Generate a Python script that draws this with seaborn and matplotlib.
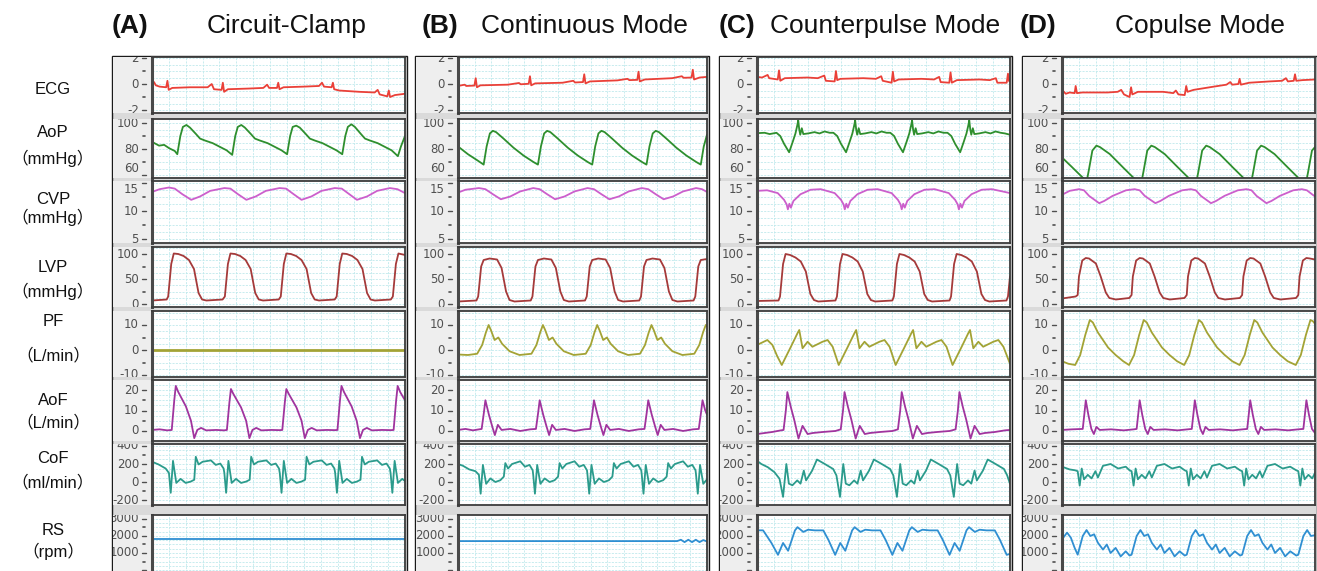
import numpy as np
import seaborn as sns
import matplotlib
matplotlib.use("Agg")
import matplotlib.pyplot as plt
from matplotlib.patches import Rectangle

# ---------------- data: (time % of sweep, value) ----------------
ECG_A = [(0,0.0),(0.8,0.15),(1.5,-0.1),(3,-0.2),(5.6,-0.25),(6.1,0.25),(6.6,-0.45),(8,-0.3),(15,-0.25),(22,-0.25),(23.6,0.0),(24.5,-0.4),(27.5,-0.45),(28,0.1),(28.5,-0.6),(30,-0.4),(38,-0.35),(44,-0.3),(45.5,-0.05),(46.3,-0.3),(49.4,-0.3),(49.9,0.1),(50.4,-0.4),(52,-0.25),(60,-0.2),(66,-0.15),(67.2,0.1),(68,-0.2),(71,-0.25),(71.5,0.1),(72,-0.4),(74,-0.5),(82,-0.6),(88,-0.65),(89.2,-0.45),(90,-0.8),(93,-0.95),(93.6,-0.5),(94.1,-1.0),(96,-0.85),(100,-0.75)]
ECG_B = [(0,-0.15),(2.7,-0.05),(3.3,-0.15),(6.6,-0.12),(7.1,0.45),(7.6,-0.25),(9,-0.1),(20,-0.05),(24.5,0.08),(25.2,-0.02),(28.4,0.02),(28.9,0.6),(29.4,-0.1),(31,0.05),(42,0.1),(46.3,0.25),(47,0.12),(50.2,0.15),(50.7,0.75),(51.2,0.05),(53,0.2),(64,0.28),(68.1,0.4),(68.8,0.3),(72,0.32),(72.5,0.95),(73,0.2),(75,0.35),(86,0.45),(89.9,0.6),(90.6,0.48),(93.8,0.5),(94.3,1.1),(94.8,0.35),(97,0.5),(100,0.55)]
ECG_C = [(0,0.55),(2,0.5),(4.2,0.7),(4.8,0.45),(8.2,0.35),(8.7,1.05),(9.2,0.25),(11,0.45),(20,0.5),(24,0.45),(26.6,0.65),(27.2,0.25),(30.7,0.2),(31.2,1.0),(31.7,0.3),(33,0.4),(42,0.45),(47,0.4),(49.1,0.6),(49.7,0.25),(53.2,0.1),(53.7,0.95),(54.2,0.2),(56,0.35),(65,0.4),(70,0.35),(72,0.55),(72.6,0.15),(76,0.1),(76.5,0.9),(77,0.1),(79,0.3),(88,0.35),(92,0.3),(94.4,0.45),(95,0.1),(98.7,0.1),(99.2,0.8),(99.7,0.2),(100,0.3)]
ECG_D = [(0,-0.45),(1.5,-0.75),(3,-0.65),(5,-0.7),(5.4,-0.15),(5.9,-0.7),(8,-0.65),(18,-0.65),(22,-0.6),(23.4,-0.45),(24.5,-0.8),(26.7,-1.0),(27.3,-0.25),(27.8,-0.8),(30,-0.6),(40,-0.6),(44,-0.7),(45,-0.5),(46,-0.8),(48.5,-0.85),(49.1,-0.15),(49.6,-0.6),(52,-0.45),(60,-0.2),(65,-0.05),(66.5,0.15),(67.3,-0.05),(69.7,0.0),(70.2,0.4),(70.7,-0.05),(74,0.1),(82,0.2),(87,0.25),(88.5,0.45),(89.3,0.2),(91.6,0.25),(92.1,0.75),(92.6,0.25),(95,0.3),(100,0.35)]

AoP_A = [(0,85.5),(2.8,82.6),(4.8,83.2),(6.8,80.6),(9.0,78.5),(10.0,76),(11.2,90),(12.2,97),(13.6,98.5),(15,96.5),(17.4,91.5),(19,88),(21,86.5),(24,84.5),(27,81.5),(29.5,79),(31.7,75.5),(32.9,90),(33.9,97),(35.3,98.5),(36.7,96.5),(39.1,91.5),(40.7,88),(42.7,86.5),(45.7,84.5),(48.7,81.5),(51.2,79),(53.4,76),(54.6,90),(55.6,97),(57,98),(58.4,96.5),(60.8,91.5),(62.4,88),(64.4,86.5),(67.4,84.5),(70.4,81.5),(72.9,79),(75.2,76),(76.4,90),(77.4,97),(78.8,99),(80.2,97),(82.6,91.5),(84.2,88),(86.2,86.5),(89.2,84.5),(92.2,81.5),(94.7,79),(97.2,74.5),(98.4,82),(100,90)]
AoP_B = [(0,82),(4,76),(8,71),(10.3,68),(11.5,82),(12.8,92),(14,94),(15.3,93),(18.3,88),(22.3,81),(26.3,75),(30.3,70),(32.1,68),(33.3,82),(34.6,92),(35.8,94),(37.1,93),(40.1,88),(44.1,81),(48.1,75),(52.1,70),(53.9,68),(55.1,82),(56.4,92),(57.6,94),(58.9,93),(61.9,88),(65.9,81),(69.9,75),(73.9,70),(75.7,68),(76.9,82),(78.2,92),(79.4,94),(80.7,93),(83.7,88),(87.7,81),(91.7,75),(95.7,70),(97.5,68),(98.7,82),(100,91)]
AoP_C = [(0,92.2),(3,92.5),(5,91.5),(7.7,92.5),(9.2,90),(10.7,84),(12.7,77.5),(14.2,86),(15.2,92),(15.9,98),(16.3,102),(16.7,95),(17.1,91),(17.7,96),(18.3,91.5),(20.2,92),(22.7,93),(24.7,92),(26.7,93.5),(28.7,92.5),(30.2,92.5),(31.7,90),(33.2,84),(35.2,77.5),(36.7,86),(37.7,92),(38.4,98),(38.8,102),(39.2,95),(39.6,91),(40.2,96),(40.8,91.5),(42.7,92),(45.2,93),(47.2,92),(49.2,93.5),(51.2,92.5),(52.7,92.5),(54.2,90),(55.7,84),(57.7,77.5),(59.2,86),(60.2,92),(60.9,98),(61.3,102),(61.7,95),(62.1,91),(62.7,96),(63.3,91.5),(65.2,92),(67.7,93),(69.7,92),(71.7,93.5),(73.7,92.5),(75.3,92.5),(76.8,90),(78.3,84),(80.3,77.5),(81.8,86),(82.8,92),(83.5,98),(83.9,102),(84.3,95),(84.7,91),(85.3,96),(85.9,91.5),(87.8,92),(90.3,93),(92.3,92),(94.3,93.5),(96.3,92.5),(98,92),(100,91)]
AoP_D = [(0,73.5),(4,66),(8.7,57),(9.8,55.5),(10.5,62.6),(12,78.8),(13.6,82.6),(15,81.5),(18.9,76.1),(24.2,65.7),(28.2,58),(29.3,55.5),(31.5,55.5),(32.2,62.6),(33.7,78.8),(35.3,82.6),(36.7,81.5),(40.6,76.1),(45.9,65.7),(49.9,58),(51,55.5),(53.2,55.5),(53.9,62.6),(55.4,78.8),(57,82.6),(58.4,81.5),(62.3,76.1),(67.6,65.7),(71.6,58),(72.7,55.5),(74.9,55.5),(75.6,62.6),(77.1,78.8),(78.7,82.6),(80.1,81.5),(84,76.1),(89.3,65.7),(93.3,58),(94.4,55.5),(96.6,55.5),(97.3,62.6),(98.8,78.8),(100,81.5)]

CVP_A = [(0,13.4),(3,13.9),(6.7,14.2),(9,14.0),(12,13.0),(15.5,12.0),(19,12.6),(23,13.6),(28.6,14.1),(31,14.0),(34,13.0),(37.3,12.0),(41,12.6),(45,13.6),(50.4,14.1),(53,14.0),(56,13.0),(59.1,12.0),(63,12.6),(67,13.6),(72.2,14.1),(75,14.0),(78,13.0),(81,12.0),(85,12.6),(89,13.6),(94,14.1),(97,13.9),(100,13.2)]
CVP_B = [(0,13.3),(3,13.8),(8.4,14.1),(11,13.9),(14,13),(17.2,12.1),(21,12.6),(25,13.5),(30.2,14.1),(32.8,13.9),(35.8,13),(39,12.1),(42.8,12.6),(46.8,13.5),(52,14.1),(54.6,13.9),(57.6,13),(60.8,12.1),(64.6,12.6),(68.6,13.5),(73.8,14.1),(76.4,13.9),(79.4,13),(82.6,12.1),(86.4,12.6),(90.4,13.5),(95.6,14.1),(98,13.9),(100,13.4)]
CVP_C = [(0,13.6),(4,13.7),(8.2,13.2),(10.7,12),(11.7,11.2),(12.2,10.3),(12.8,11.3),(13.4,10.6),(14.4,11.8),(17.2,13),(21.2,13.8),(25.2,13.9),(30.7,13.2),(33.2,12),(34.2,11.2),(34.7,10.3),(35.3,11.3),(35.9,10.6),(36.9,11.8),(39.7,13),(43.7,13.8),(47.7,13.9),(53.2,13.2),(55.7,12),(56.7,11.2),(57.2,10.3),(57.8,11.3),(58.4,10.6),(59.4,11.8),(62.2,13),(66.2,13.8),(70.2,13.9),(75.8,13.2),(78.3,12),(79.3,11.2),(79.8,10.3),(80.4,11.3),(81,10.6),(82,11.8),(84.8,13),(88.8,13.8),(92.8,13.9),(97,13.5),(100,13.2)]
CVP_D = [(0,12.9),(3,13.6),(6.7,13.9),(8.7,13.7),(10.7,12.7),(14.7,11.4),(16.7,11.8),(20,12.7),(25.3,13.7),(28.7,13.9),(30.7,13.7),(32.7,12.7),(36.9,11.4),(38.9,11.8),(42.2,12.7),(47.5,13.7),(50.9,13.9),(52.9,13.7),(54.9,12.7),(58.9,11.4),(60.9,11.8),(64.2,12.7),(69.5,13.7),(72.9,13.9),(74.9,13.7),(76.9,12.7),(80.8,11.4),(82.8,11.8),(86.1,12.7),(91.4,13.7),(94.8,13.9),(96.8,13.7),(98.8,13),(100,12.6)]

LVP_A = [(0,7),(5.8,9),(6.4,15),(7.6,80),(8.6,101),(10.4,100),(12.5,96),(14.6,88),(16.6,70),(18.4,22),(19.8,9),(21.5,7),(27.9,9),(28.8,15),(30,80),(31,101),(32.8,100),(34.9,96),(37,88),(39,70),(40.8,22),(42.2,9),(43.9,7),(50.1,9),(50.9,15),(52.1,80),(53.1,101),(54.9,100),(57,96),(59.1,88),(61.1,70),(62.9,22),(64.3,9),(66,7),(72.2,9),(73,15),(74.2,80),(75.2,101),(77,100),(79.1,96),(81.2,88),(83.2,70),(85,22),(86.4,9),(88.1,7),(94.4,9),(95.2,15),(96.4,80),(97.4,101),(99.2,99),(100,98)]
LVP_B = [(0,5),(7.4,7),(8.1,15),(9.3,75),(10.3,88),(12.7,91),(15.7,89),(17.5,72),(19.3,25),(20.7,8),(22.7,5),(29.2,7),(29.9,15),(31.1,75),(32.1,88),(34.5,91),(37.5,89),(39.3,72),(41.1,25),(42.5,8),(44.5,5),(51,7),(51.7,15),(52.9,75),(53.9,88),(56.3,91),(59.3,89),(61.1,72),(62.9,25),(64.3,8),(66.3,5),(72.8,7),(73.5,15),(74.7,75),(75.7,88),(78.1,91),(81.1,89),(82.9,72),(84.7,25),(86.1,8),(88.1,5),(94.6,7),(95.3,15),(96.5,75),(97.5,88),(100,90)]
LVP_C = [(0,6),(8.5,7),(9.1,15),(10.3,80),(11.3,100),(13.1,98),(15.2,93),(17.3,85),(19.3,65),(21.1,20),(22.5,8),(24.2,5),(31,7),(31.6,15),(32.8,80),(33.8,100),(35.6,98),(37.7,93),(39.8,85),(41.8,65),(43.6,20),(45,8),(46.7,5),(53.5,7),(54.1,15),(55.3,80),(56.3,100),(58.1,98),(60.2,93),(62.3,85),(64.3,65),(66.1,20),(67.5,8),(69.2,5),(76.1,7),(76.7,15),(77.9,80),(78.9,100),(80.7,98),(82.8,93),(84.9,85),(86.9,65),(88.7,20),(90.1,8),(91.8,5),(98.6,7),(99.2,15),(100,55)]
LVP_D = [(0,11),(5.4,15),(6.2,18),(6.7,55),(8,87),(9.4,92),(10.7,91),(13.4,81),(15.3,55),(17.3,23),(18.7,12),(21.3,9),(26.6,12),(27.5,18),(28,55),(29.3,87),(30.7,92),(32,91),(34.7,81),(36.6,55),(38.6,23),(40,12),(42.6,9),(48.4,12),(49.3,18),(49.8,55),(51.1,87),(52.5,92),(53.8,91),(56.5,81),(58.4,55),(60.4,23),(61.8,12),(64.4,9),(70.3,12),(71.2,18),(71.7,55),(73,87),(74.4,92),(75.7,91),(78.4,81),(80.3,55),(82.3,23),(83.7,12),(86.3,9),(92.5,12),(93.4,18),(93.9,55),(95.2,87),(96.6,92),(98,91),(100,89)]

PF_A = [(0,0.0),(100,0.0)]
PF_B = [(0,-1.8),(4,-2),(7.7,-1.5),(9.7,2),(11.2,7),(12.3,10),(13.2,8),(14.7,4),(16.2,5),(17.7,2.5),(20.7,-0.5),(24.7,-2),(29.5,-1.5),(31.5,2),(33,7),(34.1,10),(35,8),(36.5,4),(38,5),(39.5,2.5),(42.5,-0.5),(46.5,-2),(51.3,-1.5),(53.3,2),(54.8,7),(55.9,10),(56.8,8),(58.3,4),(59.8,5),(61.3,2.5),(64.3,-0.5),(68.3,-2),(73.1,-1.5),(75.1,2),(76.6,7),(77.7,10),(78.6,8),(80.1,4),(81.6,5),(83.1,2.5),(86.1,-0.5),(90.1,-2),(94.9,-1.5),(96.9,2),(98.4,7),(99.5,10),(100,9.5)]
PF_C = [(0,2),(4.1,4),(6.1,2),(8,-2.5),(9.8,-6),(13.4,1.3),(16,6.7),(16.7,8),(18,0.7),(20,3.3),(21.9,1.3),(25.9,3.3),(27.9,4),(29.9,1.3),(32.3,-6),(35.9,1.3),(38.5,6.7),(39.2,8),(40.5,0.7),(42.5,3.3),(44.4,1.3),(48.4,3.3),(50.4,4),(52.4,1.3),(54.8,-6),(58.4,1.3),(61,6.7),(61.7,8),(63,0.7),(65,3.3),(66.9,1.3),(70.9,3.3),(72.9,4),(74.9,1.3),(77.3,-6),(80.9,1.3),(83.5,6.7),(84.2,8),(85.5,0.7),(87.5,3.3),(89.4,1.3),(93.4,3.3),(95.4,4),(97.4,1.3),(100,-5.5)]
PF_D = [(0,-4.5),(2.5,-5.5),(5.2,-6),(7.2,-2),(9.2,6),(11,12),(12.2,11),(14.2,7),(16.2,4),(18.2,1),(21.2,-2),(24.2,-4.5),(26.5,-6),(28.5,-2),(30.5,6),(32.3,12),(33.5,11),(35.5,7),(37.5,4),(39.5,1),(42.5,-2),(45.5,-4.5),(48.3,-6),(50.3,-2),(52.3,6),(54.1,12),(55.3,11),(57.3,7),(59.3,4),(61.3,1),(64.3,-2),(67.3,-4.5),(70.2,-6),(72.2,-2),(74.2,6),(76,12),(77.2,11),(79.2,7),(81.2,4),(83.2,1),(86.2,-2),(89.2,-4.5),(92.4,-6),(94.4,-2),(96.4,6),(98.2,12),(99.2,11.5),(100,10.5)]

AoF_A = [(0,0.5),(3,0.8),(6,0.3),(7.8,0.5),(8.8,15),(9.4,22),(10.4,19),(13.4,12),(15.4,5),(16.7,-3.5),(17.9,0.5),(19.4,1.5),(21.4,0.3),(25.4,0.5),(28.5,0.3),(29.6,0.5),(30.6,14),(31.2,20.5),(32.2,18),(35.2,11.5),(37.2,5),(38.5,-3.5),(39.7,0.5),(41.2,1.5),(43.2,0.3),(47.2,0.5),(50.5,0.4),(51.5,0.5),(52.5,14),(53.1,20.5),(54.1,18),(57.1,11.5),(59.1,5),(60.4,-3.5),(61.6,0.5),(63.1,1.5),(65.1,0.3),(69.1,0.5),(72.3,0.4),(73.3,0.5),(74.3,15),(74.9,22),(75.9,19),(78.9,12),(80.9,5),(82.2,-3.5),(83.4,0.5),(84.9,1.5),(86.9,0.3),(90.9,0.5),(94.5,0.4),(95.5,0.5),(96.5,15),(97.1,22),(98.1,19),(100,15)]
AoF_B = [(0,0.5),(3,1),(6,0.3),(9.5,1),(10.4,9),(11,15),(12.4,8),(13.8,2),(14.8,-2),(16,3),(17.5,0.5),(21,1),(25,0),(29,0.8),(31.3,1),(32.2,9),(32.8,15),(34.2,8),(35.6,2),(36.6,-2),(37.8,3),(39.3,0.5),(42.8,1),(46.8,0),(50.8,0.8),(53.1,1),(54,9),(54.6,15),(56,8),(57.4,2),(58.4,-2),(59.6,3),(61.1,0.5),(64.6,1),(68.6,0),(72.6,0.8),(74.9,1),(75.8,9),(76.4,15),(77.8,8),(79.2,2),(80.2,-2),(81.4,3),(82.9,0.5),(86.4,1),(90.4,0),(94.4,0.8),(96.7,1),(97.6,9),(98.2,15),(99.3,10),(100,8)]
AoF_C = [(0,-1.5),(3,-1),(6,-0.5),(9,0.2),(10.5,0.5),(11.4,10),(12,19),(13.3,12),(14.7,5.5),(16.4,-3.7),(18,2.5),(20,-1.5),(22,-1),(26,-0.5),(31,0),(33.1,0.8),(34,10),(34.6,19),(35.9,12),(37.3,5.5),(39,-3.7),(40.6,2.5),(42.6,-1.5),(44.6,-1),(48.6,-0.5),(53.6,0),(55.7,0.8),(56.6,10),(57.2,19),(58.5,12),(59.9,5.5),(61.6,-3.7),(63.2,2.5),(65.2,-1.5),(67.2,-1),(71.2,-0.5),(76.2,0),(78.5,0.8),(79.4,10),(80,19),(81.3,12),(82.7,5.5),(84.4,-3.7),(86,2.5),(88,-1.5),(90,-1),(94,-0.5),(98,0.3),(100,0.5)]
AoF_D = [(0,0.5),(4,0.8),(8.2,1),(8.9,9),(9.4,15),(10.4,8),(11.6,1),(12.6,-1.5),(13.6,2),(14.9,0.5),(19.4,0.8),(24.4,0.3),(28.4,0.8),(29.5,1),(30.2,9),(30.7,15),(31.7,8),(32.9,1),(33.9,-1.5),(34.9,2),(36.2,0.5),(40.7,0.8),(45.7,0.3),(49.7,0.8),(51.3,1),(52,9),(52.5,15),(53.5,8),(54.7,1),(55.7,-1.5),(56.7,2),(58,0.5),(62.5,0.8),(67.5,0.3),(71.5,0.8),(73.2,1),(73.9,9),(74.4,15),(75.4,8),(76.6,1),(77.6,-1.5),(78.6,2),(79.9,0.5),(84.4,0.8),(89.4,0.3),(93.4,0.8),(95.4,1),(96.1,9),(96.6,15),(97.6,8),(98.8,1),(100,-1)]

CoF_A = [(0,225),(2.6,195),(5.4,150),(6.7,100),(7.4,-120),(8.3,235),(9.6,-10),(11.3,35),(13.3,-10),(15.3,5),(16.7,25),(17.3,280),(18.4,195),(20,225),(23.3,240),(25.2,190),(27,205),(28.3,150),(28.6,100),(29.3,-120),(30.2,235),(31.5,-10),(33.2,35),(35.2,-10),(37.2,5),(38.6,25),(39.2,280),(40.3,195),(41.9,225),(45.2,240),(47.1,190),(48.9,205),(50.2,150),(50.5,100),(51.2,-120),(52.1,235),(53.4,-10),(55.1,35),(57.1,-10),(59.1,5),(60.5,25),(61.1,280),(62.2,195),(63.8,225),(67.1,240),(69,190),(70.8,205),(72.1,150),(72.4,100),(73.1,-120),(74,235),(75.3,-10),(77,35),(79,-10),(81,5),(82.4,25),(83,280),(84.1,195),(85.7,225),(89,240),(90.9,190),(92.7,205),(94,150),(94.3,100),(95,-120),(95.9,235),(97.2,-10),(98.9,35),(100,10)]
CoF_B = [(0,200),(2,180),(4.5,140),(7,120),(8.4,80),(9.1,-130),(10,190),(11.3,-20),(13,40),(15,0),(17,20),(18.4,60),(19,210),(20.1,150),(21.7,200),(25,230),(26.9,170),(28.7,190),(30,130),(30.2,80),(30.9,-130),(31.8,190),(33.1,-20),(34.8,40),(36.8,0),(38.8,20),(40.2,60),(40.8,210),(41.9,150),(43.5,200),(46.8,230),(48.7,170),(50.5,190),(51.8,130),(52,80),(52.7,-130),(53.6,190),(54.9,-20),(56.6,40),(58.6,0),(60.6,20),(62,60),(62.6,210),(63.7,150),(65.3,200),(68.6,230),(70.5,170),(72.3,190),(73.6,130),(73.8,80),(74.5,-130),(75.4,190),(76.7,-20),(78.4,40),(80.4,0),(82.4,20),(83.8,60),(84.4,210),(85.5,150),(87.1,200),(90.4,230),(92.3,170),(94.1,190),(95.4,130),(95.6,80),(96.3,-130),(97.2,190),(98.5,-20),(100,30)]
CoF_C = [(0,236),(1.7,200),(4.3,164),(6.9,109),(8.9,36),(10.3,-165),(11.6,200),(12.6,-18),(14,-36),(15.9,18),(17.2,-18),(18.5,127),(19.4,18),(21.8,127),(23.7,250),(26.8,200),(30.1,145),(31.4,73),(32.8,-165),(34.1,200),(35.1,-18),(36.5,-36),(38.4,18),(39.7,-18),(41,127),(41.9,18),(44.3,127),(46.2,250),(49.3,200),(52.6,145),(53.9,73),(55.3,-165),(56.6,200),(57.6,-18),(59,-36),(60.9,18),(62.2,-18),(63.5,127),(64.4,18),(66.8,127),(68.7,250),(71.8,200),(75.1,145),(76.4,73),(77.8,-165),(79.1,200),(80.1,-18),(81.5,-36),(83.4,18),(84.7,-18),(86,127),(86.9,18),(89.3,127),(91.2,250),(94.3,200),(97.6,145),(98.9,73),(100,-20)]
CoF_D = [(0,170),(3,140),(5.2,130),(6.2,120),(7,-40),(7.8,150),(8.7,30),(10.2,80),(11.7,40),(13.2,120),(14.2,50),(16.2,180),(19.2,200),(22.2,150),(25.2,170),(26.7,130),(27.5,120),(28.3,-40),(29.1,150),(30,30),(31.5,80),(33,40),(34.5,120),(35.5,50),(37.5,180),(40.5,200),(43.5,150),(46.5,170),(48.5,130),(49.3,120),(50.1,-40),(50.9,150),(51.8,30),(53.3,80),(54.8,40),(56.3,120),(57.3,50),(59.3,180),(62.3,200),(65.3,150),(68.3,170),(70.4,130),(71.2,120),(72,-40),(72.8,150),(73.7,30),(75.2,80),(76.7,40),(78.2,120),(79.2,50),(81.2,180),(84.2,200),(87.2,150),(90.2,170),(92.6,130),(93.4,120),(94.2,-40),(95,150),(95.9,30),(97.4,80),(98.9,40),(100,100)]

RS_A = [(0,1800),(100,1800)]
RS_B = [(0,1700),(88,1700),(89.5,1780),(91,1640),(92.5,1780),(94,1640),(95.5,1780),(97,1640),(98.5,1760),(100,1680)]
RS_C = [(0,2333),(2.4,2333),(5.7,1593),(8.3,890),(10.3,1590),(12.3,1130),(15,2330),(16,2520),(18.3,2240),(20.2,2370),(22.9,2330),(26.2,2330),(28.2,1780),(30.9,890),(32.9,1590),(34.9,1130),(37.6,2330),(38.6,2520),(40.9,2240),(42.8,2370),(45.5,2330),(48.8,2330),(50.8,1780),(53.5,890),(55.5,1590),(57.5,1130),(60.2,2330),(61.2,2520),(63.5,2240),(65.4,2370),(68.1,2330),(71.4,2330),(73.4,1780),(76.1,890),(78.1,1590),(80.1,1130),(82.8,2330),(83.8,2520),(86.1,2240),(88,2370),(90.7,2330),(94,2330),(96,1780),(98.7,890),(100,950)]
RS_D = [(0,1800),(2,2200),(3.5,1900),(5,1300),(6.2,900),(8.2,2000),(9.7,2350),(11.2,2000),(12.7,2100),(14.2,1600),(16.2,1200),(17.7,1500),(19.2,1000),(21.2,1300),(23.2,800),(25.2,1100),(26.7,850),(27.5,900),(29.5,2000),(31,2350),(32.5,2000),(34,2100),(35.5,1600),(37.5,1200),(39,1500),(40.5,1000),(42.5,1300),(44.5,800),(46.5,1100),(48.5,850),(49.3,900),(51.3,2000),(52.8,2350),(54.3,2000),(55.8,2100),(57.3,1600),(59.3,1200),(60.8,1500),(62.3,1000),(64.3,1300),(66.3,800),(68.3,1100),(70.4,850),(71.2,900),(73.2,2000),(74.7,2350),(76.2,2000),(77.7,2100),(79.2,1600),(81.2,1200),(82.7,1500),(84.2,1000),(86.2,1300),(88.2,800),(90.2,1100),(92.6,850),(93.4,900),(95.4,2000),(96.9,2350),(98.4,2000),(100,2050)]

COL_TAGS = ["(A)", "(B)", "(C)", "(D)"]
COL_TITLES = ["Circuit-Clamp", "Continuous Mode", "Counterpulse Mode", "Copulse Mode"]
ROW_NAMES = ["ECG", "AoP", "CVP", "LVP", "PF", "AoF", "CoF", "RS"]
ROW_UNITS = ["", "（mmHg）", "（mmHg）", "（mmHg）", "（L/min）", "（L/min）", "（ml/min）", "（rpm）"]
TICK_LABELS = [[-2, 0, 2], [60, 80, 100], [5, 10, 15], [0, 50, 100], [-10, 0, 10], [0, 10, 20], [-200, 0, 200, 400], [1000, 2000, 3000]]
TICK_MARKS = [[-2, 0, 2], [60, 80, 100], [5, 10, 15], [0, 50, 100], [-10, 0, 10], [0, 10, 20], [-200, 0, 200, 400], [0, 1000, 2000, 3000]]

SERIES = {
    "ECG": [ECG_A, ECG_B, ECG_C, ECG_D],
    "AoP": [AoP_A, AoP_B, AoP_C, AoP_D],
    "CVP": [CVP_A, CVP_B, CVP_C, CVP_D],
    "LVP": [LVP_A, LVP_B, LVP_C, LVP_D],
    "PF": [PF_A, PF_B, PF_C, PF_D],
    "AoF": [AoF_A, AoF_B, AoF_C, AoF_D],
    "CoF": [CoF_A, CoF_B, CoF_C, CoF_D],
    "RS": [RS_A, RS_B, RS_C, RS_D],
}

# ---------------- layout / style ----------------
W, H = 1317, 571
sns.set_theme(style="white")
plt.rcParams["font.family"] = ["Liberation Sans", "Noto Sans CJK JP", "DejaVu Sans"]

COLORS = ["#ea4038", "#2e8f2e", "#cc5fcc", "#a53a3a", "#a3a335", "#a0349e", "#2b9b8c", "#2f8fd2"]
ROW_PX = [(57, 113), (119, 178), (181, 243), (247, 307), (311, 377), (380, 441), (444, 505), (515, 575)]
YLIMS = [(-2.23, 2.08), (57.7, 103.1), (4.29, 15.36), (-6, 114), (-10.8, 15.6), (-4.9, 24.9), (-255, 422), (-294, 3235)]
MINOR = [[-1, 1], [70, 90], [7.5, 12.5], [25, 75], [-5, 5], [5, 15], [-100, 100, 300], [500, 1500, 2500]]
GRID_STEP = [0.5, 5, 1.25, 12.5, 2.5, 2.5, 50, 250]
COL_PX = [(112, 152, 405), (415, 458, 707), (719, 757, 1010), (1022, 1062, 1315)]
TAG_X = [130, 440, 737, 1038]
TITLE_X = [287, 584, 885, 1200]
NAME_BASE = [94, 137, 204, 272, 326, 405, 463, 535]
UNIT_BASE = [None, 164, 223, 297, 360, 427, 487, 557]
# labels that sit on a panel edge next to another panel's label get nudged inside
LABEL_VA = {(1, 60): "bottom", (2, 15): "top"}

fig = plt.figure(figsize=(W / 100, H / 100), dpi=100)
fig.patch.set_facecolor("white")


def add_px(x0, y0, x1, y1):
    return fig.add_axes([x0 / W, 1 - y1 / H, (x1 - x0) / W, (y1 - y0) / H])


for r, name in enumerate(ROW_NAMES):
    fig.text(53 / W, 1 - NAME_BASE[r] / H, name, ha="center", va="baseline", fontsize=12, color="#111111")
    if ROW_UNITS[r]:
        fig.text(53 / W, 1 - UNIT_BASE[r] / H, ROW_UNITS[r], ha="center", va="baseline", fontsize=12, color="#111111")

for c in range(4):
    outer, axis_x, right = COL_PX[c]
    fig.add_artist(Rectangle((outer / W, 1 - 575 / H), (right + 2 - outer) / W, (575 - 56) / H,
                             transform=fig.transFigure, facecolor="#dadada", edgecolor="#1a1a1a",
                             lw=1.0, zorder=-1))
    fig.text(TAG_X[c] / W, 1 - 33 / H, COL_TAGS[c], ha="center", va="baseline", fontsize=19,
             fontweight="bold", color="#111111")
    fig.text(TITLE_X[c] / W, 1 - 33 / H, COL_TITLES[c], ha="center", va="baseline", fontsize=19,
             color="#111111")
    for r, name in enumerate(ROW_NAMES):
        top, bot = ROW_PX[r]
        y0, y1 = YLIMS[r]
        # grey scale strip
        sw = axis_x - outer - 1
        sax = add_px(outer + 1, top, axis_x, bot)
        sax.set_facecolor("#eeeeee")
        sax.set_xlim(0, sw)
        sax.set_ylim(y0, y1)
        sax.set_xticks([])
        sax.set_yticks([])
        for s in sax.spines.values():
            s.set_visible(False)
        for v in TICK_LABELS[r]:
            sax.text(sw - 13, v, str(v), ha="right", va=LABEL_VA.get((r, v), "center"), fontsize=8.5,
                     family="DejaVu Sans", color="#505050", clip_on=True)
        for v in TICK_MARKS[r]:
            sax.plot([sw - 10, sw - 6], [v, v], color="#505050", lw=1.0, clip_on=True)
        for v in MINOR[r]:
            sax.plot([sw - 8.6, sw - 7.4], [v, v], color="#505050", lw=1.2, clip_on=True)

        # plot area
        ax = add_px(axis_x, top, right, bot)
        ax.set_facecolor("white")
        xs, ys = zip(*SERIES[name][c])
        lw = 2.0 if (name == "PF" and c == 0) else 1.3
        sns.lineplot(x=list(xs), y=list(ys), ax=ax, color=COLORS[r], linewidth=lw,
                     estimator=None, sort=False, legend=False)
        ax.set_xlim(0, 100)
        ax.set_ylim(y0, y1)
        ax.set_xlabel("")
        ax.set_ylabel("")
        ax.set_xticks(np.linspace(0, 100, 16))
        start = np.ceil(y0 / GRID_STEP[r]) * GRID_STEP[r]
        ax.set_yticks(np.arange(start, y1, GRID_STEP[r]))
        ax.tick_params(length=0, labelleft=False, labelbottom=False)
        ax.grid(True, color="#bfe9ec", lw=0.6, ls=(0, (2.5, 1.5)))
        ax.set_axisbelow(True)
        for side, s in ax.spines.items():
            s.set_visible(True)
            s.set_color("#3c3c3c")
            s.set_linewidth(1.3)
        ax.spines["left"].set_linewidth(2.2)
        ax.spines["left"].set_color("#4a4a4a")

fig.savefig("out.png", dpi=100)
